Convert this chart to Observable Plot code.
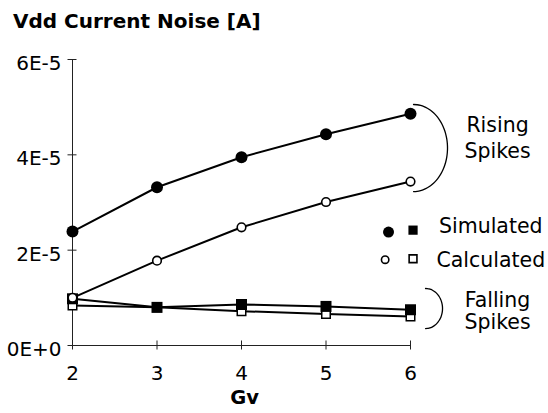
<!DOCTYPE html>
<html><head><meta charset="utf-8">
<script src="https://cdn.jsdelivr.net/npm/d3@7"></script>
<script src="https://cdn.jsdelivr.net/npm/@observablehq/plot@0.6"></script>
<style>
body{margin:0;background:#fff;font-family:"DejaVu Sans",sans-serif;}
#title{font-weight:bold;font-size:20px;line-height:20px;padding:11px 0 0 13px;height:29px;color:#000;}
</style></head><body>
<div id="title">Vdd Current Noise [A]</div>
<div id="chart"></div>
<script>
// ---- data (values in units of 1E-5 A) ----
const gv = [2, 3, 4, 5, 6];
const simulatedRising  = [2.39, 3.32, 3.95, 4.43, 4.86];
const calculatedRising = [1.00, 1.78, 2.48, 3.01, 3.44];
const simulatedFalling  = [0.98, 0.80, 0.86, 0.82, 0.75];
const calculatedFalling = [0.84, 0.80, 0.72, 0.66, 0.61];
const unit = 1e-5;
const yTicks = [0, 2e-5, 4e-5, 6e-5];
const yTickLabels = ["0E+0", "2E-5", "4E-5", "6E-5"];
const xTickLabels = ["2", "3", "4", "5", "6"];
const xLabel = "Gv";

// annotation texts (data coordinates)
const annotTexts = [
  {text: "Rising", x: 7.03, y: 4.61},
  {text: "Spikes", x: 7.03, y: 4.08},
  {text: "Falling", x: 7.03, y: 0.95},
  {text: "Spikes", x: 7.03, y: 0.49},
  {text: "Simulated", x: 6.95, y: 2.50},
  {text: "Calculated", x: 6.95, y: 1.79}
];
// legend symbols (data coordinates)
const legendSimCircle = [{x: 5.74, y: 2.38}];
const legendSimSquare = [{x: 6.03, y: 2.42}];
const legendCalcCircle = [{x: 5.70, y: 1.80}];
const legendCalcSquare = [{x: 6.03, y: 1.82}];
// brackets: ellipse arcs (center / radii in data units)
const brackets = [
  {id: "rising", cx: 6.036, cy: 4.143, rx: 0.402, ry: 0.913},
  {id: "falling", cx: 6.178, cy: 0.776, rx: 0.201, ry: 0.42}
];

// ---- build tables ----
function rows(values, series) {
  return gv.map((g, i) => ({gv: g, v: values[i] * unit, series}));
}
const sr = rows(simulatedRising, "sr");
const cr = rows(calculatedRising, "cr");
const sf = rows(simulatedFalling, "sf");
const cf = rows(calculatedFalling, "cf");
const bracketPts = brackets.flatMap(b =>
  d3.range(-90, 90.1, 6).map(a => ({
    id: b.id,
    x: b.cx + b.rx * Math.cos(a * Math.PI / 180),
    y: (b.cy - b.ry * Math.sin(a * Math.PI / 180)) * unit
  }))
);
const ly = d => d.y * unit;

const chart = Plot.plot({
  width: 548,
  height: 373,
  marginLeft: 72,
  marginRight: 138,
  marginTop: 19,
  marginBottom: 68,
  style: {fontFamily: "DejaVu Sans, sans-serif", fontSize: "20px", background: "white", color: "black"},
  x: {domain: [2, 6], axis: null},
  y: {domain: [0, 6e-5], axis: null},
  marks: [
    // axis lines
    Plot.ruleX([gv[0]], {y1: yTicks[0], y2: yTicks[yTicks.length - 1], stroke: "#222", strokeWidth: 1}),
    Plot.ruleY([0], {x1: gv[0], x2: gv[gv.length - 1], stroke: "#222", strokeWidth: 1}),
    // crossing ticks
    Plot.axisY({ticks: yTicks, tickSize: 9, dx: 4.5, tickFormat: () => "", label: null, stroke: "#222"}),
    Plot.axisX({ticks: gv, tickSize: 9, dy: -4.5, tickFormat: () => "", label: null, stroke: "#222"}),
    // tick labels
    Plot.axisY({ticks: yTicks, tickSize: 0, tickPadding: 11, dy: 4, fontSize: 20,
      tickFormat: d => yTickLabels[yTicks.indexOf(d)], label: null}),
    Plot.axisX({ticks: gv, tickSize: 0, tickPadding: 20, fontSize: 20,
      tickFormat: d => xTickLabels[gv.indexOf(d)], label: null}),
    Plot.text([xLabel], {frameAnchor: "bottom", dx: 3, dy: 58, fontSize: 19.5, fontWeight: "bold", text: d => d}),
    // series lines
    Plot.line(cf, {x: "gv", y: "v", stroke: "black", strokeWidth: 2}),
    Plot.line(sf, {x: "gv", y: "v", stroke: "black", strokeWidth: 2}),
    Plot.line(cr, {x: "gv", y: "v", stroke: "black", strokeWidth: 2}),
    Plot.line(sr, {x: "gv", y: "v", stroke: "black", strokeWidth: 2}),
    // markers
    Plot.dot(cf, {x: "gv", y: "v", symbol: "square", r: 4.8, fill: "white", stroke: "black", strokeWidth: 1.5}),
    Plot.dot(sf, {x: "gv", y: "v", symbol: "square", r: 6.2, fill: "black"}),
    Plot.dot(cr, {x: "gv", y: "v", symbol: "circle", r: 4.3, fill: "white", stroke: "black", strokeWidth: 1.6}),
    Plot.dot(sr, {x: "gv", y: "v", symbol: "circle", r: 6, fill: "black"}),
    // brackets
    Plot.line(bracketPts, {x: "x", y: "y", z: "id", stroke: "black", strokeWidth: 1.3, curve: "natural"}),
    // legend
    Plot.dot(legendSimCircle, {x: "x", y: ly, symbol: "circle", r: 5.5, fill: "black"}),
    Plot.dot(legendSimSquare, {x: "x", y: ly, symbol: "square", r: 5.2, fill: "black"}),
    Plot.dot(legendCalcCircle, {x: "x", y: ly, symbol: "circle", r: 3.7, fill: "white", stroke: "black", strokeWidth: 1.6}),
    Plot.dot(legendCalcSquare, {x: "x", y: ly, symbol: "square", r: 4.4, fill: "white", stroke: "black", strokeWidth: 1.6}),
    // annotation texts
    Plot.text(annotTexts, {x: "x", y: ly, text: "text", fontSize: 20.5, fill: "black"})
  ]
});
document.getElementById("chart").appendChild(chart);
</script>
</body></html>
